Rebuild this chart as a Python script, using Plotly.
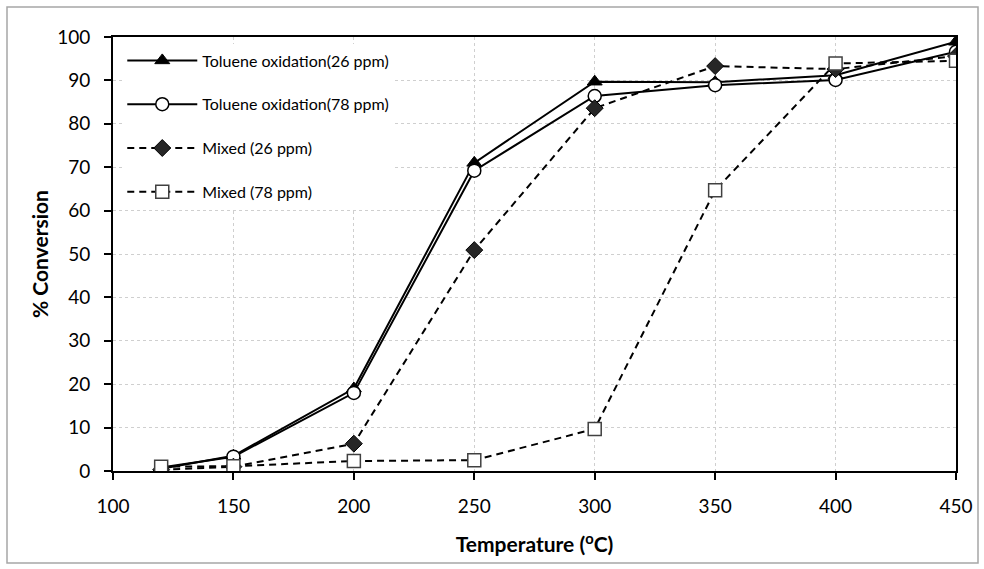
import plotly.graph_objects as go

temps = [120, 150, 200, 250, 300, 350, 400, 450]
tol_26 = [0.5, 3.5, 19.0, 71.0, 89.7, 89.6, 91.2, 98.9]
tol_78 = [0.8, 3.3, 18.0, 69.2, 86.4, 88.9, 90.1, 96.6]
mix_26 = [0.3, 1.0, 6.3, 50.9, 83.6, 93.3, 92.6, 95.6]
mix_78 = [1.0, 1.1, 2.3, 2.5, 9.7, 64.7, 93.9, 94.5]

names = ["Toluene oxidation(26 ppm)", "Toluene oxidation(78 ppm)",
         "Mixed (26 ppm)", "Mixed (78 ppm)"]
x_ticks = [100, 150, 200, 250, 300, 350, 400, 450]
y_ticks = [0, 10, 20, 30, 40, 50, 60, 70, 80, 90, 100]

FONT = "Lato, 'Open Sans', sans-serif"

fig = go.Figure()
fig.add_trace(go.Scatter(
    x=temps, y=tol_26, name=names[0], mode="lines+markers", legendgroup="a",
    line=dict(color="black", width=2),
    marker=dict(symbol="triangle-up", size=13, color="black",
                line=dict(color="black", width=1))))
fig.add_trace(go.Scatter(
    x=temps, y=tol_78, name=names[1], mode="lines+markers", legendgroup="b",
    line=dict(color="black", width=2),
    marker=dict(symbol="circle", size=13, color="white",
                line=dict(color="black", width=1.5))))
fig.add_trace(go.Scatter(
    x=temps, y=mix_26, name=names[2], mode="lines+markers", legendgroup="c",
    line=dict(color="black", width=2, dash="7px,5px"),
    marker=dict(symbol="diamond", size=13, color="#262626",
                line=dict(color="black", width=1))))
fig.add_trace(go.Scatter(
    x=temps, y=mix_78, name=names[3], mode="lines+markers", legendgroup="d",
    line=dict(color="black", width=2, dash="7px,5px"),
    marker=dict(symbol="square", size=13, color="white",
                line=dict(color="#404040", width=1.5))))

axis_common = dict(
    showline=True, linecolor="black", linewidth=2, mirror=True,
    ticks="outside", ticklen=7, tickwidth=1.5, tickcolor="black",
    showgrid=True, gridcolor="#cfcfcf", gridwidth=1, griddash="dot",
    zeroline=False, tickfont=dict(family=FONT, size=19, color="black"),
    ticklabelstandoff=10,
)

fig.update_xaxes(range=[100, 450], tickvals=x_ticks, ticktext=[str(v) for v in x_ticks],
                 title=dict(text="Temperature (<sup>o</sup>C)", standoff=22,
                            font=dict(family=FONT, size=21, color="black", weight="bold")),
                 **axis_common)
fig.update_yaxes(range=[0, 100], tickvals=y_ticks, ticktext=[str(v) for v in y_ticks],
                 title=dict(text="% Conversion", standoff=3,
                            font=dict(family=FONT, size=21, color="black", weight="bold")),
                 **axis_common)

fig.update_layout(
    width=984, height=569,
    margin=dict(l=113, r=28, t=37, b=98),
    paper_bgcolor="white", plot_bgcolor="white",
    font=dict(family=FONT, color="black"),
    legend=dict(x=0.011, y=0.985, xanchor="left", yanchor="top",
                bgcolor="white", borderwidth=0,
                font=dict(family=FONT, size=16, color="black"),
                tracegroupgap=20, traceorder="grouped", itemwidth=70),
    shapes=[dict(type="rect", xref="paper", yref="paper",
                 x0=-106 / 843, x1=(978 - 113) / 843,
                 y0=-(563 - 471) / 434, y1=(471 - 7) / 434,
                 line=dict(color="#a6a6a6", width=1.5), fillcolor="rgba(0,0,0,0)",
                 layer="below")],
)

fig.write_html("out.html", config={"displayModeBar": False},
               post_script="document.body.style.margin='0';")
